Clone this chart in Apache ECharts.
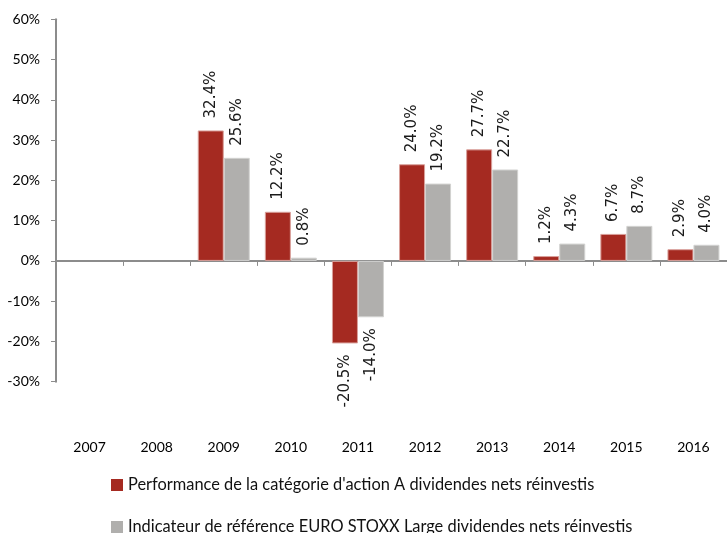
<!DOCTYPE html>
<html>
<head>
<meta charset="utf-8">
<script src="https://cdn.jsdelivr.net/npm/echarts@6/dist/echarts.min.js"></script>
<style>
  html, body { margin: 0; padding: 0; background: #ffffff; }
  #chart { width: 727px; height: 533px; }
</style>
</head>
<body>
<div id="chart"></div>
<script>
// Calendar years on the category axis
const years = ['2007', '2008', '2009', '2010', '2011', '2012', '2013', '2014', '2015', '2016'];

// Annual performance (%) — no figures before 2009
const shareClassA = [null, null, 32.4, 12.2, -20.5, 24.0, 27.7, 1.2, 6.7, 2.9];
const benchmark   = [null, null, 25.6, 0.8, -14.0, 19.2, 22.7, 4.3, 8.7, 4.0];

const seriesNames = [
  "Performance de la catégorie d'action A dividendes nets réinvestis",
  "Indicateur de référence EURO STOXX Large dividendes nets réinvestis"
];

const axisGray = '#8c8c8c';
const textFont = 'Lato';

// Value labels stand vertically above positive bars and below negative ones
function withLabels(values) {
  return values.map(function (v) {
    if (v === null) return null;
    if (v < 0) {
      return {
        value: v,
        label: { position: 'bottom', align: 'right', distance: 11 }
      };
    }
    return { value: v };
  });
}

const baseLabel = {
  show: true,
  position: 'top',
  rotate: 90,
  align: 'left',
  verticalAlign: 'middle',
  distance: 12,
  fontFamily: 'DejaVu Sans',
  fontSize: 15,
  color: '#1a1a1a',
  formatter: function (p) { return p.value.toFixed(1) + '%'; }
};

// One legend block per series, stacked one under the other
function legendRow(name, top) {
  return {
    orient: 'horizontal',
    left: 106,
    top: top,
    icon: 'rect',
    itemWidth: 12,
    itemHeight: 12,
    itemStyle: { borderWidth: 0 },
    textStyle: { fontFamily: textFont, fontSize: 16.4, color: '#111111' },
    data: [name]
  };
}

const chart = echarts.init(document.getElementById('chart'), null, { renderer: 'canvas' });

chart.setOption({
  animation: false,
  backgroundColor: '#ffffff',
  grid: { left: 56, top: 19.3, width: 674.6, height: 362.4, containLabel: false },
  xAxis: [
    {
      type: 'category',
      data: years,
      boundaryGap: true,
      axisLine: { show: true, onZero: true, lineStyle: { color: axisGray, width: 2 } },
      axisTick: { show: true, length: 5, alignWithLabel: false, lineStyle: { color: axisGray, width: 1 } },
      axisLabel: { show: false },
      splitLine: { show: false }
    },
    {
      type: 'category',
      data: years,
      position: 'bottom',
      boundaryGap: true,
      axisLine: { show: false, onZero: false },
      axisTick: { show: false },
      axisLabel: { show: true, margin: 59, fontFamily: textFont, fontSize: 14, color: '#000000' },
      splitLine: { show: false }
    }
  ],
  yAxis: {
    type: 'value',
    min: -30,
    max: 60,
    interval: 10,
    axisLine: { show: true, lineStyle: { color: axisGray, width: 2 } },
    axisTick: { show: true, length: 5, lineStyle: { color: axisGray, width: 1 } },
    axisLabel: {
      margin: 16,
      fontFamily: textFont,
      fontSize: 14,
      color: '#000000',
      formatter: '{value}%'
    },
    splitLine: { show: false }
  },
  legend: [
    legendRow(seriesNames[0], 472),
    legendRow(seriesNames[1], 514)
  ],
  series: [
    {
      name: seriesNames[0],
      type: 'bar',
      xAxisIndex: 0,
      barWidth: 26,
      barGap: '0%',
      itemStyle: { color: '#a52a21', borderColor: '#d9a09b', borderWidth: 1 },
      label: baseLabel,
      data: withLabels(shareClassA)
    },
    {
      name: seriesNames[1],
      type: 'bar',
      xAxisIndex: 0,
      barWidth: 26,
      barGap: '0%',
      itemStyle: { color: '#b0afad', borderColor: '#d2d2d0', borderWidth: 1 },
      label: baseLabel,
      data: withLabels(benchmark)
    }
  ]
});
</script>
</body>
</html>
